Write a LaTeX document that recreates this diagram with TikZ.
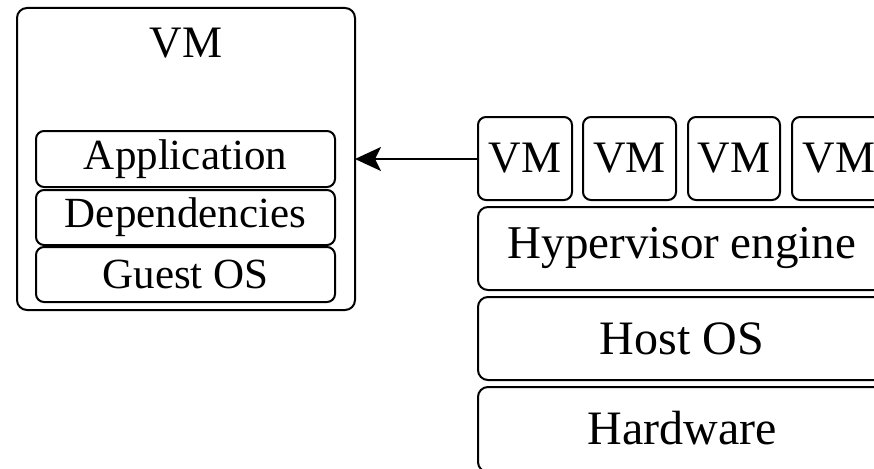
\documentclass[tikz,border=0pt]{standalone}
\usepackage{fontspec}
\setmainfont{Liberation Serif}
\usetikzlibrary{arrows.meta}
\begin{document}
\begin{tikzpicture}[x=1pt,y=-1pt,
  layer/.style={draw=black, line width=2pt, rounded corners=8pt},
  lbl/.style={anchor=center, inner sep=0pt},
]
\useasboundingbox (0,0) rectangle (874,468);
\clip (0,0) rectangle (874,468);
% left VM
\draw[layer, rounded corners=10pt] (17,8) rectangle (355,310);
\node[lbl, font=\fontsize{45}{50}\selectfont] (vmtitle) at (186,43) {VM};
\coordinate (leftbox) at (355,159);
\draw[layer] (36,131) rectangle (335,187);
\node[lbl, font=\fontsize{43}{48}\selectfont] (app) at (185.5,159) {Application};
\draw[layer] (36,190) rectangle (335,245);
\node[lbl, font=\fontsize{43}{48}\selectfont] (dep) at (185.5,217.5) {Dependencies};
\draw[layer] (36,247) rectangle (335,302);
\node[lbl, font=\fontsize{43}{48}\selectfont] (gos) at (185.5,274.5) {Guest OS};
% right stack VMs
\foreach \i/\xa/\xb in {1/478/572, 2/583/676, 3/688/780, 4/792/886}{
  \draw[layer] (\xa,117) rectangle (\xb,200);
  \node[lbl, font=\fontsize{45}{50}\selectfont] (vm\i) at ({(\xa+\xb)/2},158.5) {VM};
}
\coordinate (vmw) at (478,159);
\draw[layer, rounded corners=10pt] (478,207) rectangle (886,290);
\node[lbl, font=\fontsize{47}{52}\selectfont] (hyp) at (682,248.5) {Hypervisor engine};
\draw[layer, rounded corners=10pt] (478,297) rectangle (886,380);
\node[lbl, font=\fontsize{48}{53}\selectfont] (host) at (682,338.5) {Host OS};
\draw[layer, rounded corners=10pt] (478,387) rectangle (886,472);
\node[lbl, font=\fontsize{48}{53}\selectfont] (hw) at (682,428) {Hardware};
% arrow
\draw[line width=2pt, -{Stealth[length=26pt, width=24pt, inset=6pt]}] (vmw) -- (leftbox);
\end{tikzpicture}
\end{document}
